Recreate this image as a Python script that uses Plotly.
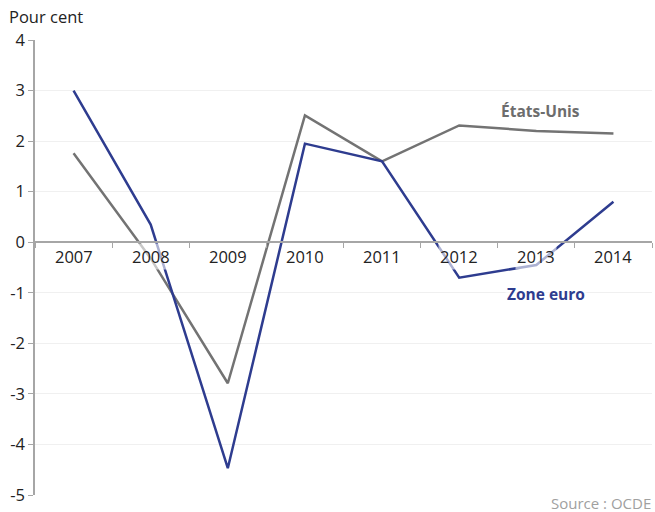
import plotly.graph_objects as go

years = ["2007", "2008", "2009", "2010", "2011", "2012", "2013", "2014"]
zone_euro = [3.0, 0.35, -4.47, 1.95, 1.6, -0.7, -0.45, 0.8]
etats_unis = [1.76, -0.32, -2.79, 2.51, 1.6, 2.31, 2.2, 2.15]
y_ticks = [-5, -4, -3, -2, -1, 0, 1, 2, 3, 4]

FONT = "Open Sans"
BLUE = "#2e3c8f"
GREY = "#737373"

fig = go.Figure()
fig.add_trace(go.Scatter(x=years, y=etats_unis, mode="lines",
                         line=dict(color=GREY, width=2.5), showlegend=False))
fig.add_trace(go.Scatter(x=years, y=zone_euro, mode="lines",
                         line=dict(color=BLUE, width=2.5), showlegend=False))

W, H = 655, 512
L, R, T, B = 35, 3, 40, 17
plot_w = W - L - R
plot_h = H - T - B

ymin, ymax = -5, 4
fig.update_layout(
    width=W, height=H,
    margin=dict(l=L, r=R, t=T, b=B, autoexpand=False),
    plot_bgcolor="white", paper_bgcolor="white",
    font=dict(family=FONT, size=16.5, color="#222"),
    xaxis=dict(type="category", range=[-0.5, 7.5], showgrid=False,
               showline=True, linecolor="#a6a6a6", linewidth=1.5,
               ticks="outside", tickson="boundaries", ticklen=5,
               tickcolor="#a6a6a6", showticklabels=False,
               anchor="free", position=(0 - ymin) / (ymax - ymin),
               zeroline=False, automargin=False),
    yaxis=dict(range=[ymin, ymax], tickvals=y_ticks,
               ticktext=[str(v) for v in y_ticks],
               showgrid=True, gridcolor="#f0f0f0", gridwidth=1,
               showline=True, linecolor="#a6a6a6", linewidth=1.5,
               ticks="outside", ticklen=5, tickcolor="#a6a6a6",
               zeroline=False, automargin=False,
               tickfont=dict(size=16.5, color="#222")),
)

for i, yr in enumerate(years):
    fig.add_annotation(xref="x", yref="y", x=i, y=0, yanchor="top",
                       yshift=-1, text=yr,
                       showarrow=False, font=dict(size=16.5, color="#222"),
                       bgcolor="rgba(255,255,255,0.6)")

fig.add_annotation(xref="paper", yref="paper", x=-(L - 7) / plot_w, y=1,
                   xanchor="left", yanchor="bottom", yshift=10,
                   text="Pour cent", showarrow=False,
                   font=dict(size=16.5, color="#222"))
fig.add_annotation(xref="x", yref="y", x=6.05, y=2.6,
                   text="<b>États-Unis</b>", showarrow=False,
                   font=dict(size=15.5, color="#6d6d6d"),
                   bgcolor="rgba(255,255,255,0.6)")
fig.add_annotation(xref="x", yref="y", x=6.13, y=-1.02,
                   text="<b>Zone euro</b>", showarrow=False,
                   font=dict(size=15.5, color=BLUE),
                   bgcolor="rgba(255,255,255,0.6)")
fig.add_annotation(xref="paper", yref="paper", x=1, y=-8 / plot_h,
                   xanchor="right", yanchor="middle",
                   text="Source : OCDE", borderpad=0,
                   showarrow=False, font=dict(size=15, color="#a0a0a0"))

fig.write_html("out.html",
               config={"displayModeBar": False},
               post_script="document.body.style.margin='0';"
                           "document.body.style.overflow='hidden';")
